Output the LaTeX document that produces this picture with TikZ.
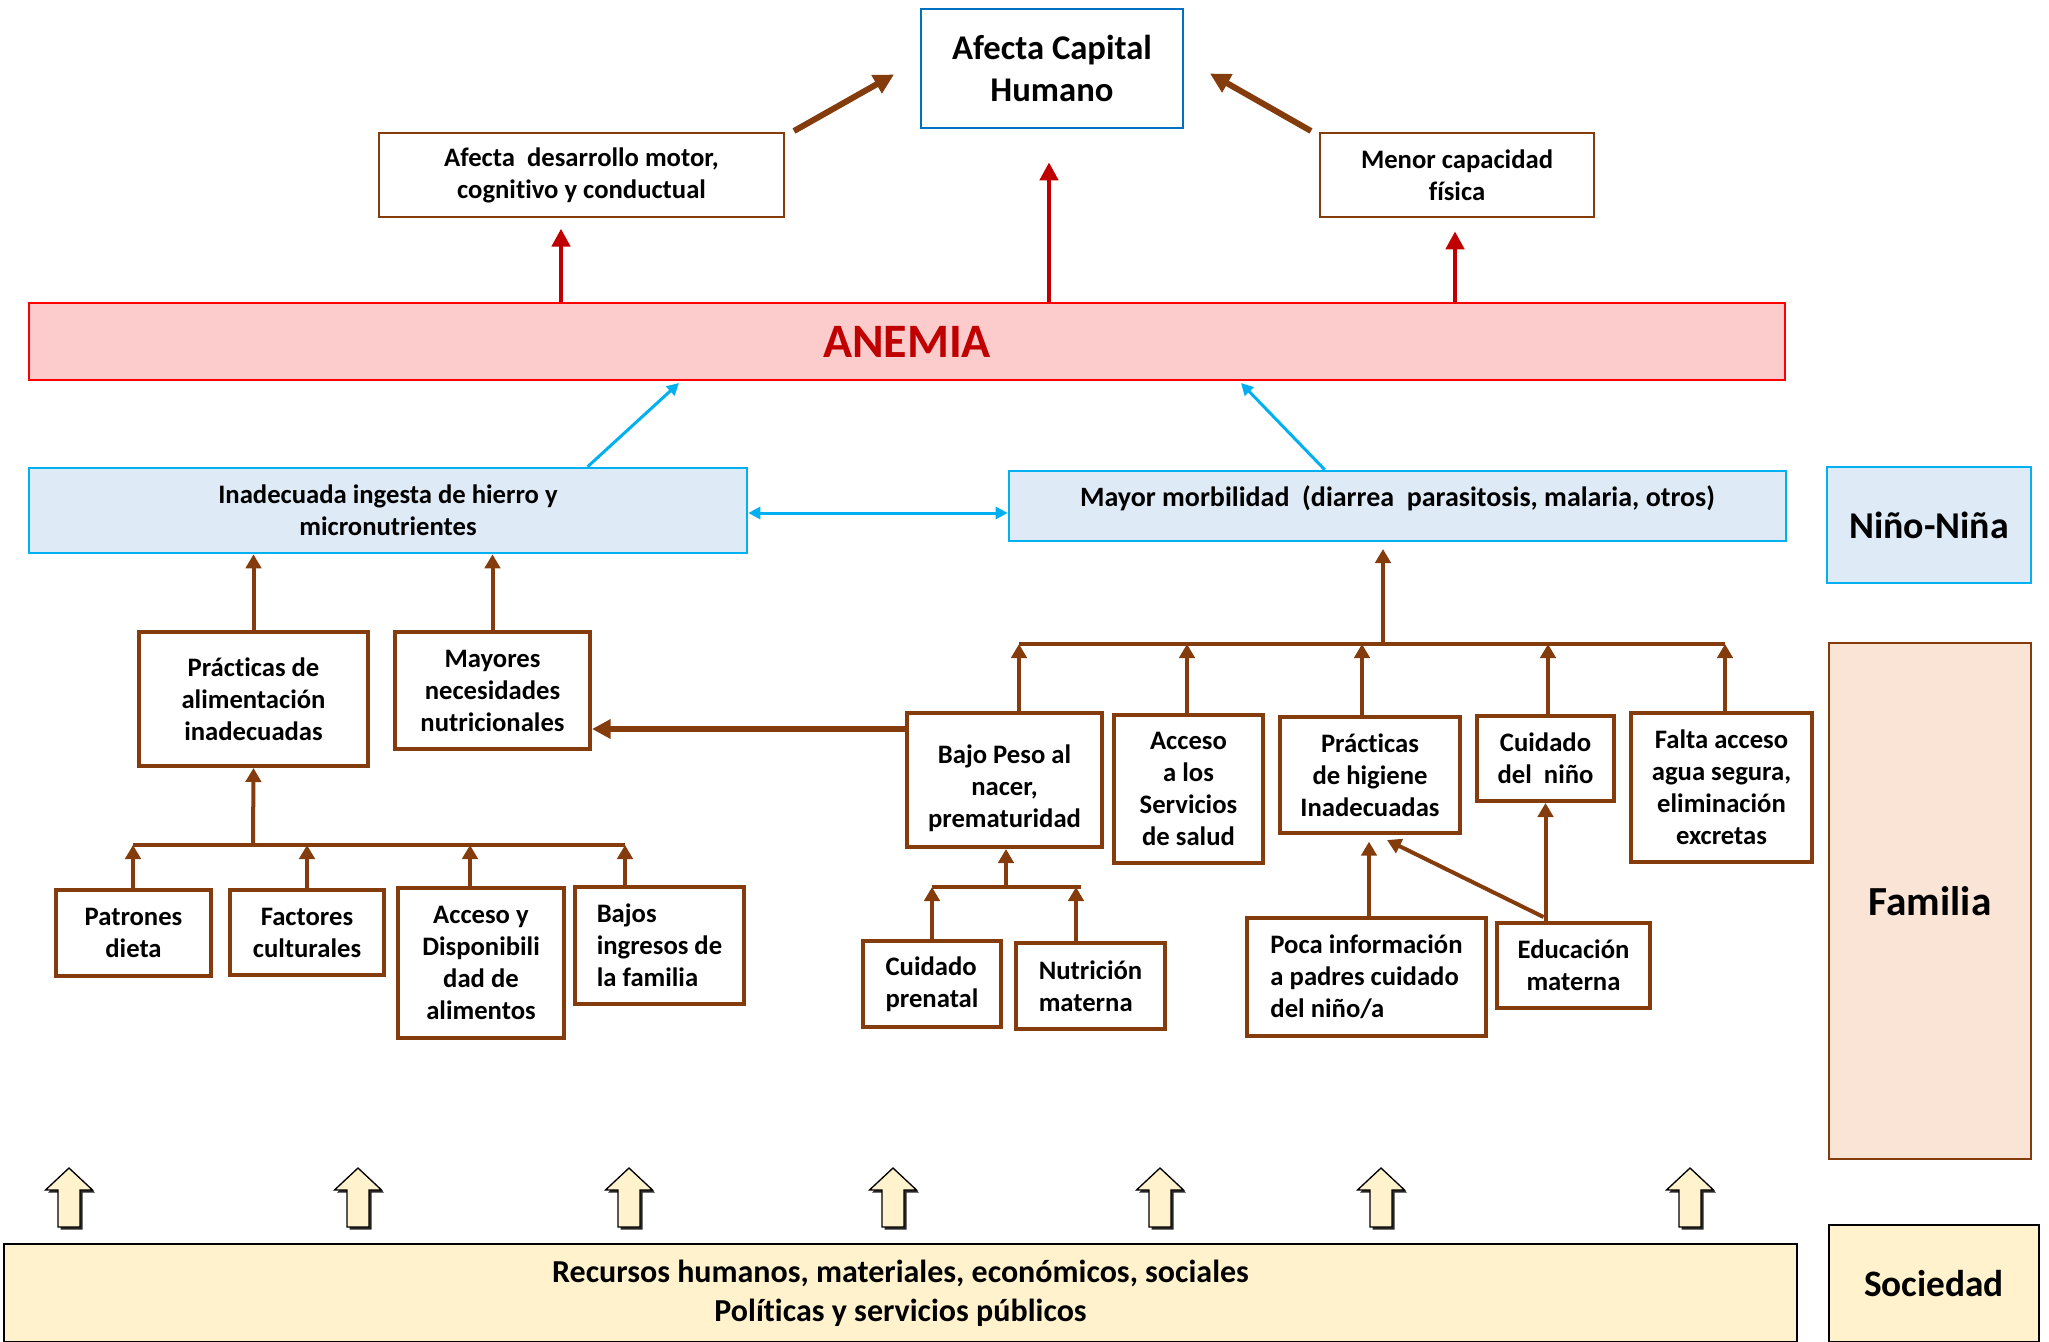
\documentclass[tikz,border=0pt]{standalone}
\usepackage{fontspec}
\setmainfont{Carlito}[Ligatures=NoCommon]
\usetikzlibrary{arrows.meta,calc}

\definecolor{brn}{HTML}{843C0C}
\definecolor{darkred}{HTML}{C00000}
\definecolor{brightred}{HTML}{FF0000}
\definecolor{pinkfill}{HTML}{FCCBCB}
\definecolor{cyanline}{HTML}{00B0F0}
\definecolor{bluefill}{HTML}{DEEAF6}
\definecolor{blueline}{HTML}{0070C0}
\definecolor{peach}{HTML}{FAE4D6}
\definecolor{cream}{HTML}{FFF2CC}

\tikzset{
  % a box given by its left, top, right and bottom edges
  spot/.style n args={4}{minimum width={(#3-(#1))*0.75pt}, minimum height={(#4-(#2))*0.75pt},
      at={({(#1+#3)/2},{(#2+#4)/2})}},
  txt/.style={font=\bfseries\fontsize{20}{24}\selectfont, align=center, text=black},
  bbox/.style={draw=brn, line width=3pt, fill=white, inner sep=0pt, txt},
  lbox/.style={bbox, align=left},
  thinbox/.style={draw=brn, line width=1.5pt, fill=white, inner sep=0pt, txt},
  cbox/.style={draw=cyanline, line width=2pt, fill=bluefill, inner sep=0pt, txt},
  brar/.style={draw=brn, line width=3pt, -{Triangle[length=10.5pt,width=11.5pt]}},
  brthick/.style={draw=brn, line width=4.5pt, -{Triangle[length=14pt,width=14pt]}},
  bar/.style={draw=brn, line width=3pt},
  redar/.style={draw=darkred, line width=3.5pt, -{Triangle[length=13.5pt,width=13.5pt]}},
  bluear/.style={draw=cyanline, line width=2.25pt, -{Triangle[length=9pt,width=9pt]}},
  blueboth/.style={draw=cyanline, line width=2.25pt, {Triangle[length=9pt,width=9pt]}-{Triangle[length=9pt,width=9pt]}},
}

\begin{document}
\begin{tikzpicture}[x=0.75pt,y=-0.75pt]
\useasboundingbox (0,0) rectangle (2049,1342);

% ---- top level
\node[draw=blueline, line width=1.5pt, fill=white, inner sep=0pt,
      font=\bfseries\fontsize{26}{31.5}\selectfont, align=center,
      spot={921}{9}{1183}{128}] (cap) {Afecta Capital\\Humano};
\node[thinbox, spot={379}{133}{784}{217}] (des) {Afecta~ desarrollo motor,\\cognitivo y conductual};
\node[thinbox, spot={1320}{133}{1594}{217}] (men) {Menor capacidad\\física};

\node[draw=brightred, line width=1.5pt, fill=pinkfill, inner sep=0pt,
      font=\bfseries\fontsize{36}{40}\selectfont, text=darkred,
      spot={29}{303}{1785}{380}] (anemia) {ANEMIA};

% ---- child level
\node[cbox, spot={29}{468}{747}{553}] (ina) {Inadecuada ingesta de hierro y\\micronutrientes};
\node[cbox, spot={1009}{471}{1786}{541},
      label={[txt, font=\bfseries\fontsize{21}{24}\selectfont, yshift=6pt]center:{Mayor morbilidad~ (diarrea~ parasitosis, malaria, otros)}}] (mor) {};

% ---- side labels
\node[cbox, font=\bfseries\fontsize{28.4}{32}\selectfont, spot={1827}{467}{2031}{583}] (nin) {Niño-Niña};
\node[draw=brn, line width=1.5pt, fill=peach, inner sep=0pt,
      font=\bfseries\fontsize{31}{36}\selectfont, spot={1829}{643}{2031}{1159}] (fam) {Familia};
\node[draw=black, line width=1.5pt, fill=cream, inner sep=0pt,
      font=\bfseries\fontsize{28}{32}\selectfont, spot={1829}{1225}{2039}{1342}] (soc) {Sociedad};
\node[draw=black, line width=1.5pt, fill=cream, inner sep=0pt, align=center,
      font=\bfseries\fontsize{24}{29.5}\selectfont, spot={4}{1244}{1797}{1342}] (res)
      {Recursos humanos, materiales, económicos, sociales\\Políticas y servicios públicos};

% ---- family level, left branch
\node[bbox, spot={139}{632}{368}{766}] (pra) {Prácticas de\\alimentación\\inadecuadas};
\node[bbox, spot={395}{632}{590}{749}] (may) {Mayores\\necesidades\\nutricionales};
\node[bbox, spot={56}{890}{211}{976}] (pat) {Patrones\\dieta};
\node[bbox, spot={230}{890}{384}{975}] (fac) {Factores\\culturales};
\node[bbox, spot={398}{888}{564}{1038}] (acc) {Acceso y\\Disponibili\\dad de\\alimentos};
\node[lbox, spot={575}{887}{744}{1004}] (baj) {Bajos\\ingresos de\\la familia};

% ---- family level, right branch
\node[bbox, spot={907}{713}{1102}{847},
      label={[txt, yshift=-6pt]center:{Bajo Peso al\\nacer,\\prematuridad}}] (bpn) {};
\node[bbox, spot={1114}{715}{1263}{863}] (acs) {Acceso\\a los\\Servicios\\de salud};
\node[bbox, spot={1280}{717}{1460}{833}] (hig) {Prácticas\\de higiene\\Inadecuadas};
\node[bbox, spot={1477}{716}{1614}{801}] (cui) {Cuidado\\del~ niño};
\node[bbox, spot={1631}{713}{1812}{862}] (fal) {Falta acceso\\agua segura,\\eliminación\\excretas};
\node[lbox, spot={863}{941}{1001}{1027}] (cpr) {Cuidado\\prenatal};
\node[lbox, spot={1016}{943}{1165}{1029}] (nut) {Nutrición\\materna};
\node[lbox, spot={1247}{918}{1486}{1036}] (poc) {Poca información\\a padres cuidado\\del niño/a};
\node[bbox, spot={1497}{923}{1650}{1008}] (edu) {Educación\\materna};

% ---- junction points
\coordinate (rx1) at (561,0);
\coordinate (rx2) at (1049,0);
\coordinate (rx3) at (1455,0);
\coordinate (dbl) at (0,513);
\coordinate (bm) at (0,729);
\coordinate (l0) at (253,845);
\coordinate (l1) at (133,845);
\coordinate (l2) at (307,845);
\coordinate (l3) at (470,845);
\coordinate (l4) at (625,845);
\coordinate (r0) at (1383,644);
\coordinate (r1) at (1019,644);
\coordinate (r2) at (1187,644);
\coordinate (r3) at (1362,644);
\coordinate (r4) at (1548,644);
\coordinate (r5) at (1725,644);
\coordinate (b0) at (1006,887);
\coordinate (b1) at (932,887);
\coordinate (b2) at (1076,887);
\coordinate (b3) at (1081,887);
\coordinate (px) at (1369,0);

% ---- consequences of anemia
\draw[redar, shorten >=8pt] (anemia.north -| rx1) -- (des.south -| rx1);
\draw[redar, shorten >=25pt] (anemia.north -| rx2) -- (cap.south -| rx2);
\draw[redar, shorten >=10pt] (anemia.north -| rx3) -- (men.south -| rx3);
\draw[draw=brn, line width=4.5pt, -{Triangle[length=15pt,width=15pt]}]
  ($(des.north east)+(9,-1)$) -- ($(cap.west)+(-26,6)$);
\draw[draw=brn, line width=4.5pt, -{Triangle[length=15pt,width=15pt]}]
  ($(men.north west)+(-8,-1)$) -- ($(cap.east)+(26,5)$);

% ---- causes of anemia
\draw[bluear] ($(ina.north west)+(560,0)$) -- ($(anemia.south west)+(651,2)$);
\draw[bluear] ($(mor.north west)+(317,0)$) -- ($(anemia.south west)+(1213,2)$);
\draw[blueboth] (ina.east |- dbl) -- (mor.west |- dbl);

% ---- left branch
\draw[brar] (pra.north) -- (pra.north |- ina.south);
\draw[brar] (may.north) -- (may.north |- ina.south);
\draw[brthick] (bpn.west |- bm) -- (may.east |- bm);
\draw[bar] (l1) -- (l4);
\draw[brar] (l0) -- (pra.south);
\draw[brar] (pat.north -| l1) -- (l1);
\draw[brar] (fac.north -| l2) -- (l2);
\draw[brar] (acc.north -| l3) -- (l3);
\draw[brar] (baj.north -| l4) -- (l4);

% ---- right branch
\draw[bar] (r1) -- (r5);
\draw[brar, shorten >=5pt] (r0) -- (r0 |- mor.south);
\draw[brar] (bpn.north -| r1) -- (r1);
\draw[brar] (acs.north -| r2) -- (r2);
\draw[brar] (hig.north -| r3) -- (r3);
\draw[brar] (cui.north -| r4) -- (r4);
\draw[brar] (fal.north -| r5) -- (r5);

\draw[bar] (b1) -- (b3);
\draw[brar] (b0) -- (b0 |- bpn.south);
\draw[brar] (cpr.north -| b1) -- (b1);
\draw[brar] (nut.north -| b2) -- (b2);

\draw[brar, shorten >=5pt] (poc.north -| px) -- (hig.south -| px);
\draw[brar] ($(edu.north)+(-30,-4)$) -- ($(hig.south)+(17,5)$);
\draw[brar] (edu.north -| cui.south) -- (cui.south);

% ---- society pushing upwards
\foreach \x in {69,358,629,893,1160,1381,1690}{
  \fill[black!85] (\x-11+2.5,1229.5) -- (\x-11+2.5,1192.5) -- (\x-23.5+2.5,1192.5) -- (\x+2.5,1170.5)
    -- (\x+23.5+2.5,1192.5) -- (\x+11+2.5,1192.5) -- (\x+11+2.5,1229.5) -- cycle;
  \draw[fill=cream, line width=1pt, line join=miter] (\x-11,1227) -- (\x-11,1190) -- (\x-23.5,1190) -- (\x,1168)
    -- (\x+23.5,1190) -- (\x+11,1190) -- (\x+11,1227) -- cycle;
}
\end{tikzpicture}
\end{document}
